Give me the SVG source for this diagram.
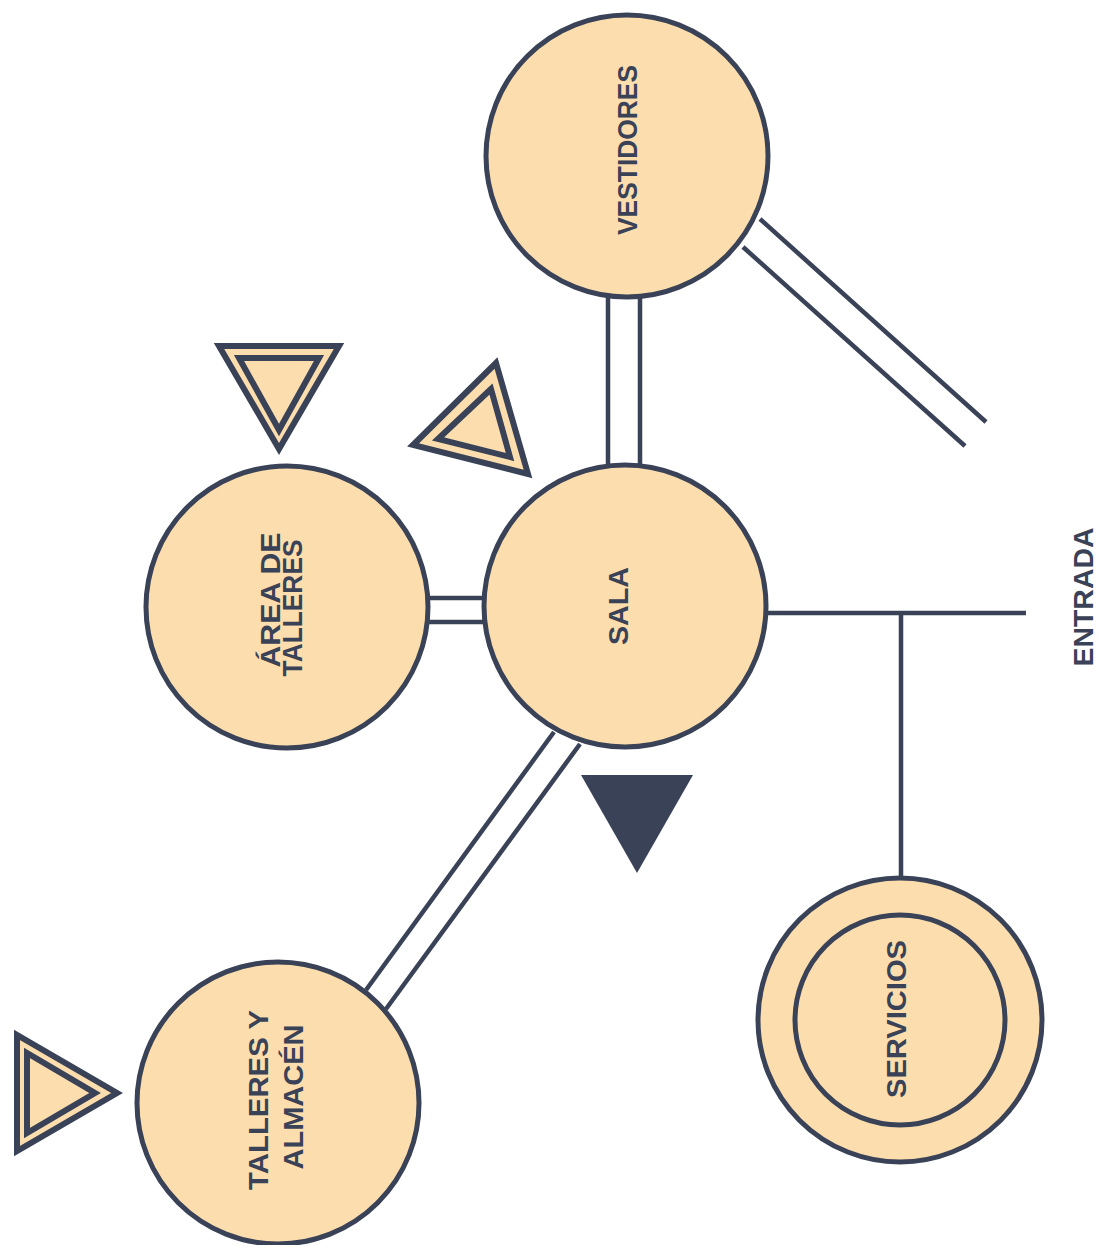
<svg xmlns="http://www.w3.org/2000/svg" width="1100" height="1245" viewBox="0 0 1100 1245">
<style>
.node{fill:#fcdeae;stroke:#3a4257;stroke-width:5}
.ln{stroke:#3a4257;stroke-width:4.5;fill:none}
.tri{fill:#fcdeae;stroke:#3a4257;stroke-width:6;stroke-linejoin:miter}
.lbl{font-family:"Liberation Sans",Arial,sans-serif;font-weight:bold;font-size:28px;fill:#3a4257;text-anchor:middle}
</style>
<rect width="1100" height="1245" fill="#ffffff"/>
<g id="connectors">
<line class="ln" x1="608" y1="296" x2="608" y2="467"/>
<line class="ln" x1="640" y1="296" x2="640" y2="467"/>
<line class="ln" x1="760" y1="219" x2="986" y2="422"/>
<line class="ln" x1="743" y1="247" x2="965" y2="446"/>
<line class="ln" x1="428" y1="598" x2="485" y2="598"/>
<line class="ln" x1="428" y1="622" x2="485" y2="622"/>
<line class="ln" x1="554" y1="732" x2="366" y2="990"/>
<line class="ln" x1="580" y1="744" x2="386" y2="1009"/>
<line class="ln" x1="766" y1="613" x2="1026" y2="613"/>
<line class="ln" x1="901" y1="611" x2="901" y2="880"/>
</g>
<g id="vestidores">
<circle class="node" cx="627" cy="156" r="141"/>
<text class="lbl" transform="translate(637,150) rotate(-90)" textLength="170" lengthAdjust="spacingAndGlyphs">VESTIDORES</text>
</g>
<g id="sala">
<circle class="node" cx="625" cy="606" r="141"/>
<text class="lbl" transform="translate(628,606) rotate(-90)" textLength="78" lengthAdjust="spacingAndGlyphs">SALA</text>
</g>
<g id="area-talleres">
<circle class="node" cx="287" cy="607" r="141"/>
<text class="lbl" transform="translate(280,600) rotate(-90)" textLength="135" lengthAdjust="spacingAndGlyphs">ÁREA DE</text>
<text class="lbl" transform="translate(302,608) rotate(-90)" textLength="137" lengthAdjust="spacingAndGlyphs">TALLERES</text>
</g>
<g id="talleres-almacen">
<circle class="node" cx="278" cy="1103" r="141"/>
<text class="lbl" transform="translate(268,1100) rotate(-90)" textLength="180" lengthAdjust="spacingAndGlyphs">TALLERES Y</text>
<text class="lbl" transform="translate(303,1097) rotate(-90)" textLength="145" lengthAdjust="spacingAndGlyphs">ALMACÉN</text>
</g>
<g id="servicios">
<circle class="node" cx="900" cy="1020" r="142"/>
<circle class="node" cx="900" cy="1020" r="105"/>
<text class="lbl" transform="translate(906,1019) rotate(-90)" textLength="158" lengthAdjust="spacingAndGlyphs">SERVICIOS</text>
</g>
<g id="entrada">
<text class="lbl" transform="translate(1093,597) rotate(-90)" textLength="139" lengthAdjust="spacingAndGlyphs">ENTRADA</text>
</g>
<g id="triangle-1">
<polygon class="tri" points="219,346 339,346 279,449"/>
<polygon class="tri" points="239,358 319,358 279,430"/>
</g>
<g id="triangle-2">
<polygon class="tri" points="496,363 413,445 528,474"/>
<polygon class="tri" points="491,389 438,439 510,457"/>
</g>
<g id="triangle-3">
<polygon class="tri" points="17,1035 17,1151 117,1093"/>
<polygon class="tri" points="27,1053 27,1133 95,1093"/>
</g>
<g id="triangle-solid">
<polygon points="581,775 693,775 637,873" fill="#3a4257"/>
</g>
</svg>
